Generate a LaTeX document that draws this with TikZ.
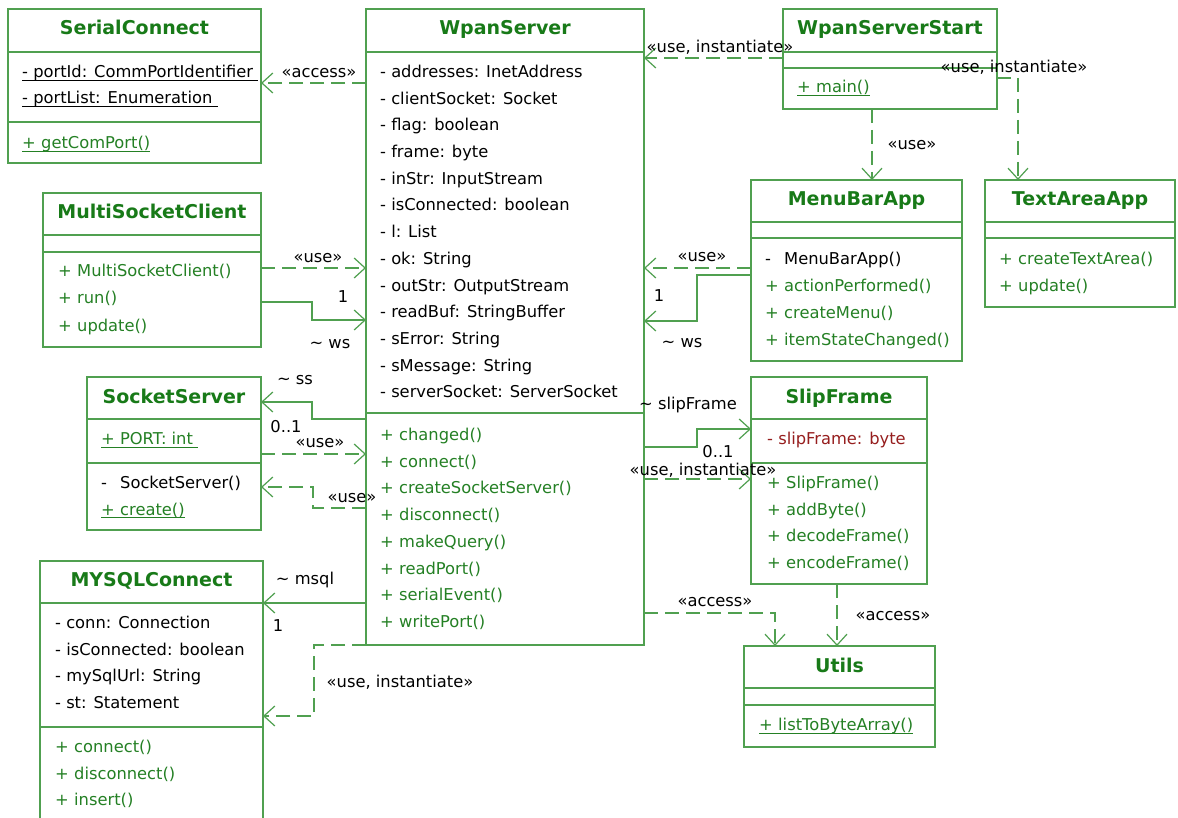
\documentclass[tikz,border=0pt]{standalone}
\usepackage{fontspec}
\setmainfont{DejaVu Sans}
\usetikzlibrary{arrows.meta}

\definecolor{lg}{RGB}{80,160,80}   % frames and connectors
\definecolor{tg}{RGB}{24,122,24}   % class names
\definecolor{mg}{RGB}{36,128,36}   % operations
\definecolor{dr}{RGB}{150,30,30}   % highlighted attribute

% visibility sign followed by a member name
\newcommand\op[2]{\makebox[19pt][l]{#1}#2}
% underline for static members
\newcommand\ulx[1]{\setbox0=\hbox{#1}\rlap{\rule[-3pt]{\wd0}{0.9pt}}\box0}

\begin{document}
\begin{tikzpicture}[
  x=1pt, y=-1pt,
  umlbox/.style={draw=lg, line width=1.2pt, fill=white, inner sep=0pt, outer sep=0pt, anchor=north west},
  divider/.style={draw=lg, line width=1.2pt},
  ctitle/.style={anchor=base, inner sep=0pt, text=tg, font=\fontsize{19}{22}\selectfont\bfseries},
  attr/.style={anchor=base west, inner sep=0pt, font=\fontsize{16.3}{20}\selectfont},
  oper/.style={attr, text=mg},
  lbl/.style={inner sep=0pt, font=\fontsize{16.3}{20}\selectfont},
  dep/.style={draw=lg, line width=1.2pt, dash pattern=on 14pt off 7pt, -{Straight Barb[length=11pt,width=20pt]}},
  assoc/.style={draw=lg, line width=1.2pt, -{Straight Barb[length=11pt,width=20pt]}},
]
\fill[white] (0,0) rectangle (1178,818);
\clip (0,0) rectangle (1178,818);

% ---------------- class frames ----------------
\node[umlbox, minimum width=253pt, minimum height=154pt] (sc)  at (8,9) {};
\node[umlbox, minimum width=278pt, minimum height=636pt] (ws)  at (366,9) {};
\node[umlbox, minimum width=214pt, minimum height=100pt] (wss) at (783,9) {};
\node[umlbox, minimum width=211pt, minimum height=181pt] (mba) at (751,180) {};
\node[umlbox, minimum width=190pt, minimum height=127pt] (taa) at (985,180) {};
\node[umlbox, minimum width=218pt, minimum height=154pt] (msc) at (43,193) {};
\node[umlbox, minimum width=174pt, minimum height=153pt] (ss)  at (87,377) {};
\node[umlbox, minimum width=223pt, minimum height=270pt] (my)  at (40,561) {};
\node[umlbox, minimum width=176pt, minimum height=207pt] (sf)  at (751,377) {};
\node[umlbox, minimum width=191pt, minimum height=101pt] (ut)  at (744,646) {};

% compartment separators
\foreach \b/\ya/\yb in {sc/52/122, ws/52/413, wss/52/68, mba/222/238, taa/222/238,
                        msc/235/252, ss/419/463, my/603/727, sf/419/463, ut/688/705} {
  \draw[divider] (\b.west |- 0,\ya) -- (\b.east |- 0,\ya);
  \draw[divider] (\b.west |- 0,\yb) -- (\b.east |- 0,\yb);
}

% class names
\node[ctitle] (sc-t)  at (sc.north  |- 0,35)  {SerialConnect};
\node[ctitle] (ws-t)  at (ws.north  |- 0,35)  {WpanServer};
\node[ctitle] (wss-t) at (wss.north |- 0,35)  {WpanServerStart};
\node[ctitle] (mba-t) at (mba.north |- 0,206) {MenuBarApp};
\node[ctitle] (taa-t) at (taa.north |- 0,206) {TextAreaApp};
\node[ctitle] (msc-t) at (msc.north |- 0,219) {MultiSocketClient};
\node[ctitle] (ss-t)  at (ss.north  |- 0,403) {SocketServer};
\node[ctitle] (my-t)  at (my.north  |- 0,586) {MYSQLConnect};
\node[ctitle] (sf-t)  at (sf.north  |- 0,403) {SlipFrame};
\node[ctitle] (ut-t)  at (ut.north  |- 0,672) {Utils};

% ---------------- members ----------------
% SerialConnect
\node[attr] (sc-a1) at (22,77.5)  {\ulx{- portId: CommPortIdentifier\ }};
\node[attr] (sc-a2) at (22,103.5) {\ulx{- portList: Enumeration\ }};
\node[oper] (sc-o1) at (22,148.5) {\ulx{\op{+}{getComPort()}}};

% WpanServer
\foreach \t [count=\i] in {addresses: InetAddress, clientSocket: Socket, flag: boolean,
    frame: byte, inStr: InputStream, isConnected: boolean, l: List, ok: String,
    outStr: OutputStream, readBuf: StringBuffer, sError: String, sMessage: String,
    serverSocket: ServerSocket}
  \node[attr] (ws-a\i) at (380,{77.5+26.7*(\i-1)}) {- \t};
\foreach \t [count=\i] in {changed(), connect(), createSocketServer(), disconnect(),
    makeQuery(), readPort(), serialEvent(), writePort()}
  \node[oper] (ws-o\i) at (380,{440.5+26.7*(\i-1)}) {\op{+}{\t}};

% WpanServerStart
\node[oper] (wss-o1) at (797,92.5) {\ulx{\op{+}{main()}}};

% MenuBarApp
\node[attr] (mba-o1) at (765,264.5) {\op{-}{MenuBarApp()}};
\foreach \t [count=\i from 2] in {actionPerformed(), createMenu(), itemStateChanged()}
  \node[oper] (mba-o\i) at (765,{264.5+27*(\i-1)}) {\op{+}{\t}};

% TextAreaApp
\foreach \t [count=\i] in {createTextArea(), update()}
  \node[oper] (taa-o\i) at (999,{264.5+27*(\i-1)}) {\op{+}{\t}};

% MultiSocketClient
\foreach \t [count=\i] in {MultiSocketClient(), run(), update()}
  \node[oper] (msc-o\i) at (58,{277+27*(\i-1)}) {\op{+}{\t}};

% SocketServer
\node[oper] (ss-a1) at (101,444.5) {\ulx{+ PORT: int\ }};
\node[attr] (ss-o1) at (101,488.5) {\op{-}{SocketServer()}};
\node[oper] (ss-o2) at (101,515)   {\ulx{\op{+}{create()}}};

% MYSQLConnect
\foreach \t [count=\i] in {conn: Connection, isConnected: boolean, mySqlUrl: String, st: Statement}
  \node[attr] (my-a\i) at (55,{628.5+26.7*(\i-1)}) {- \t};
\foreach \t [count=\i] in {connect(), disconnect(), insert()}
  \node[oper] (my-o\i) at (55,{752.5+26.7*(\i-1)}) {\op{+}{\t}};

% SlipFrame
\node[attr, text=dr] (sf-a1) at (767,444.5) {- slipFrame: byte};
\foreach \t [count=\i] in {SlipFrame(), addByte(), decodeFrame(), encodeFrame()}
  \node[oper] (sf-o\i) at (767,{488.5+26.7*(\i-1)}) {\op{+}{\t}};

% Utils
\node[oper] (ut-o1) at (759,730.5) {\ulx{\op{+}{listToByteArray()}}};

% ---------------- relations ----------------
\draw[dep]   (ws.west |- 0,83)  -- (sc.east |- 0,83);
\draw[dep]   (wss.west |- 0,58) -- (ws.east |- 0,58);
\draw[dep]   (wss.east |- 0,78) -| (taa.north -| 1018,0);
\draw[dep]   (wss.south -| 872,0) -- (mba.north -| 872,0);
\draw[dep]   (msc.east |- 0,268) -- (ws.west |- 0,268);
\draw[assoc] (msc.east |- 0,302) -- (312,302) -- (312,320) -- (ws.west |- 0,320);
\draw[dep]   (mba.west |- 0,268) -- (ws.east |- 0,268);
\draw[assoc] (mba.west |- 0,275) -- (697,275) -- (697,321) -- (ws.east |- 0,321);
\draw[assoc] (ws.west |- 0,419) -- (312,419) -- (312,402) -- (ss.east |- 0,402);
\draw[dep]   (ss.east |- 0,454) -- (ws.west |- 0,454);
\draw[dep]   (ws.west |- 0,508) -- (313,508) -- (313,487) -- (ss.east |- 0,487);
\draw[assoc] (ws.east |- 0,447) -- (697,447) -- (697,429) -- (sf.west |- 0,429);
\draw[dep]   (ws.east |- 0,479) -- (sf.west |- 0,479);
\draw[dep]   (ws.east |- 0,613) -| (ut.north -| 775,0);
\draw[dep]   (sf.south -| 837,0) -- (ut.north -| 837,0);
\draw[assoc] (ws.west |- 0,603) -- (my.east |- 0,603);
\draw[dep]   (ws.south west) -- (314,645) -- (314,716) -- (my.east |- 0,716);

% relation labels
\node[lbl] (l1)  at (319,73)  {«access»};
\node[lbl] (l2)  at (720,47)  {«use, instantiate»};
\node[lbl] (l3)  at (1014,67) {«use, instantiate»};
\node[lbl] (l4)  at (912,145) {«use»};
\node[lbl] (l5)  at (318,258) {«use»};
\node[lbl] (l6)  at (343,297) {1};
\node[lbl] (l7)  at (330,344) {\textasciitilde{} ws};
\node[lbl] (l8)  at (702,257) {«use»};
\node[lbl] (l9)  at (659,296) {1};
\node[lbl] (l10) at (682,343) {\textasciitilde{} ws};
\node[lbl] (l11) at (295,380) {\textasciitilde{} ss};
\node[lbl] (l12) at (286,427) {0..1};
\node[lbl] (l13) at (320,443) {«use»};
\node[lbl] (l14) at (352,498) {«use»};
\node[lbl] (l15) at (688,405) {\textasciitilde{} slipFrame};
\node[lbl] (l16) at (718,452) {0..1};
\node[lbl] (l17) at (703,470) {«use, instantiate»};
\node[lbl] (l18) at (715,602) {«access»};
\node[lbl] (l19) at (893,616) {«access»};
\node[lbl] (l20) at (305,580) {\textasciitilde{} msql};
\node[lbl] (l21) at (278,626) {1};
\node[lbl] (l22) at (400,682) {«use, instantiate»};
\end{tikzpicture}
\end{document}
